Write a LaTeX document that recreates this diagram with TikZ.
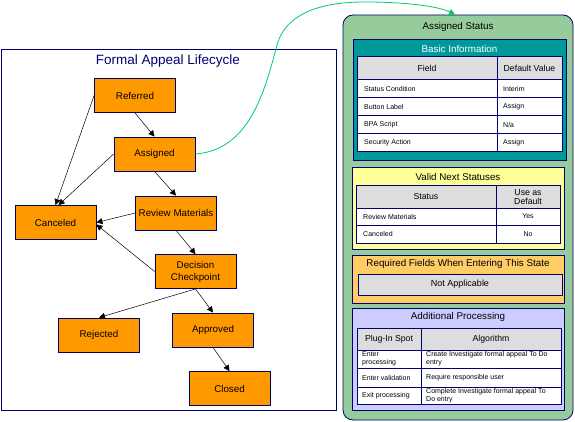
\documentclass[tikz,border=0pt]{standalone}
\usepackage{fontspec}
\setmainfont{Liberation Sans}
\usetikzlibrary{arrows.meta}
\definecolor{navy}{RGB}{0,0,110}
\definecolor{stateorange}{RGB}{255,153,0}
\definecolor{panelgreen}{RGB}{150,204,155}
\definecolor{basicteal}{RGB}{0,153,153}
\definecolor{nextyellow}{RGB}{255,255,153}
\definecolor{reqorange}{RGB}{255,204,102}
\definecolor{addlilac}{RGB}{204,204,255}
\definecolor{hdrgray}{RGB}{221,221,221}
\definecolor{linkgreen}{RGB}{0,200,110}
\tikzset{
  stbox/.style={draw=navy,fill=stateorange,line width=0.8pt,minimum width=81pt,minimum height=34pt,
    inner sep=1pt,align=center,font=\fontsize{9.8}{12}\selectfont},
  trans/.style={-{Triangle[length=6pt,width=6pt]},line width=0.5pt},
  sect/.style={draw=navy,line width=0.8pt},
  cell/.style={draw=navy,line width=1pt},
  sectitle/.style={font=\fontsize{9.8}{11}\selectfont},
  hdr/.style={font=\fontsize{8.7}{9}\selectfont,align=center,inner sep=0pt},
  txt/.style={font=\fontsize{7}{8}\selectfont,align=left,anchor=west,inner sep=0pt}
}
\begin{document}
\begin{tikzpicture}[x=1pt,y=-1pt]
\useasboundingbox (0,0) rectangle (575,422);
% lifecycle frame
\draw[navy,line width=0.8pt] (1,49) rectangle (336,410);
\node[navy,font=\fontsize{13.5}{15}\selectfont] (ttl) at (168,61) {Formal Appeal Lifecycle};
\node[stbox] (ref) at (135,95.5) {Referred};
\node[stbox] (asg) at (154.5,154) {Assigned};
\node[stbox] (rev) at (176,213) {Review Materials};
\node[stbox] (can) at (55.5,222.5) {Canceled};
\node[stbox] (dec) at (195.5,271.5) {Decision\\Checkpoint};
\node[stbox] (rej) at (99,335) {Rejected};
\node[stbox] (apr) at (213,330) {Approved};
\node[stbox] (clo) at (229.5,388.5) {Closed};
\draw[trans] (ref.south) -- (asg.north);
\draw[trans] (ref.west) -- (can.north);
\draw[trans] (asg.west) -- ([xshift=3pt]can.north);
\draw[trans] (asg.south) -- (rev.north);
\draw[trans] (rev.west) -- (can.east);
\draw[trans] (dec.west) -- ([yshift=-2pt]can.east);
\draw[trans] (rev.south) -- (dec.north);
\draw[trans] (dec.south) -- (rej.north);
\draw[trans] (dec.south) -- (apr.north);
\draw[trans] (apr.south) -- (clo.north);
% status panel
\node[draw=navy,fill=panelgreen,line width=0.8pt,rounded corners=10pt,minimum width=230pt,minimum height=405pt] (stat) at (458,217.5) {};
\draw[linkgreen,line width=0.8pt,-{Triangle[length=6pt,width=6pt]}] (asg.east) .. controls (250,150) and (265,90) .. (277,45) .. controls (287,9) and (330,2) .. (365,2) .. controls (410,2) and (440,7) .. ([xshift=-3pt]stat.north);
\node[sectitle] (stt) at (458,27) {Assigned Status};
% basic information
\draw[sect,fill=basicteal] (353,39) rectangle (566,160);
\node[sectitle,white] (bit) at (459.5,49) {Basic Information};
\draw[cell,fill=hdrgray] (357,57) rectangle (497,80);
\draw[cell,fill=hdrgray] (497,57) rectangle (562,80);
\foreach \ya/\yb in {80/98,98/116,116/134,134/152} {
  \draw[cell,fill=white] (357,\ya) rectangle (497,\yb);
  \draw[cell,fill=white] (497,\ya) rectangle (562,\yb);
}
\node[hdr] (bh1) at (427,68.5) {Field};
\node[hdr] (bh2) at (529.5,68.5) {Default Value};
\foreach \y/\f/\v [count=\i] in {89/Status Condition/Interim,107/Button Label/Assign,125/BPA Script/{N/a},143/Security Action/Assign} {
  \node[txt] (bf\i) at (364,\y) {\f};
  \node[txt] (bv\i) at (503,\y) {\v};
}
% valid next statuses
\draw[sect,fill=nextyellow] (352,167) rectangle (564,249);
\node[sectitle] (vnt) at (458,177) {Valid Next Statuses};
\draw[cell,fill=hdrgray] (356,186) rectangle (496,208);
\draw[cell,fill=hdrgray] (496,186) rectangle (560,208);
\foreach \ya/\yb in {208/225,225/243} {
  \draw[cell,fill=white] (356,\ya) rectangle (496,\yb);
  \draw[cell,fill=white] (496,\ya) rectangle (560,\yb);
}
\node[hdr] (vh1) at (426,197) {Status};
\node[hdr] (vh2) at (528,197) {Use as\\Default};
\node[txt] (vs1) at (363,216.5) {Review Materials};
\node[txt,anchor=center] (vd1) at (528,216.5) {Yes};
\node[txt] (vs2) at (363,234) {Canceled};
\node[txt,anchor=center] (vd2) at (528,234) {No};
% required fields
\draw[sect,fill=reqorange] (352,255) rectangle (564,303);
\node[sectitle] (rft) at (458,264) {Required Fields When Entering This State};
\draw[cell,line width=0.8pt,fill=hdrgray] (358,274) rectangle (562,295);
\node[hdr,font=\fontsize{9}{10}\selectfont] (rfn) at (460,284.5) {Not Applicable};
% additional processing
\draw[sect,fill=addlilac] (352,308) rectangle (564,410);
\node[sectitle] (apt) at (458,317) {Additional Processing};
\draw[cell,fill=hdrgray] (357,328) rectangle (421,350);
\draw[cell,fill=hdrgray] (421,328) rectangle (561,350);
\foreach \ya/\yb in {350/368,368/387,387/404} {
  \draw[cell,fill=white] (357,\ya) rectangle (421,\yb);
  \draw[cell,fill=white] (421,\ya) rectangle (561,\yb);
}
\node[hdr] (ah1) at (389,339) {Plug-In Spot};
\node[hdr] (ah2) at (491,339) {Algorithm};
\node[txt] (ap1) at (362,359) {Enter\\processing};
\node[txt] (aa1) at (426,359) {Create Investigate formal appeal To Do\\entry};
\node[txt] (ap2) at (362,377.5) {Enter validation};
\node[txt] (aa2) at (426,377.5) {Require responsible user};
\node[txt] (ap3) at (362,395.5) {Exit processing};
\node[txt] (aa3) at (426,395.5) {Complete Investigate formal appeal To\\Do entry};
\end{tikzpicture}
\end{document}
